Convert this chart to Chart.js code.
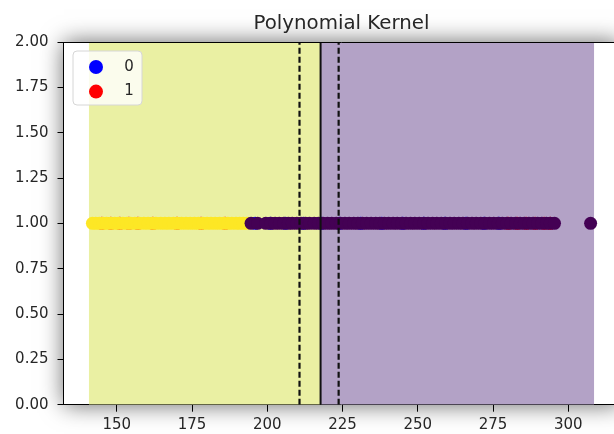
<!DOCTYPE html>
<html>
<head>
<meta charset="utf-8">
<script src="https://cdn.jsdelivr.net/npm/chart.js@4"></script>
<style>
  html, body { margin: 0; padding: 0; background: #fff; overflow: hidden; }
  #kernel { display: block; }
</style>
</head>
<body>
<canvas id="kernel" width="626" height="434"></canvas>
<script>
// true classes (drawn first, mostly hidden by the predictions)
var class0X = [196, 201, 206, 212, 218, 224, 231, 238, 245, 252, 259, 266, 272, 277];
var class1X = [145, 148, 151, 154, 157, 162, 170, 178, 186, 280, 283, 286, 289, 292, 294];
var classLabels = ['0', '1'];

// predicted classes
var predYellowX = [141.9, 143, 144.2, 145.5, 146.6, 148, 149.3, 150.5, 152, 153.4, 154.6, 156, 157.5, 159,
  160.4, 161.8, 163, 164.6, 166, 167.3, 168.8, 170.1, 171.5, 173, 174.4, 175.8, 177.1, 178.6, 180,
  181.3, 182.7, 184.1, 185.5, 186.9, 188.2, 189.6, 190.8, 192, 193.2];
var predPurpleX = [194.6, 196.8, 199.5, 201.2, 202.6, 204, 205.5, 207, 208.3, 209.8, 211.2, 212.7, 214, 215.6,
  217, 218.5, 220, 221.4, 222.9, 224.3, 225.8, 227.2, 228.7, 230.1, 231.6, 233, 234.5, 236, 237.4,
  238.9, 240.3, 241.8, 243.2, 244.7, 246.1, 247.6, 249, 250.5, 252, 253.4, 254.9, 256.3, 257.8,
  259.2, 260.7, 262.1, 263.6, 265, 266.5, 268, 269.4, 270.9, 272.3, 273.8, 275.2, 276.7, 278.1,
  279.6, 281, 282.5, 284, 285.4, 286.9, 288.3, 289.8, 291.2, 292.7, 294, 295.4, 307.4];
var pointY = 1;

// decision regions and boundary lines
var regionYellow = [140.7, 217.7];
var regionPurple = [217.7, 308.6];
var boundaryX = 217.7;
var marginX = [210.7, 223.7];

var xMin = 132.3, xMax = 317.0;
var xTicks = [150, 175, 200, 225, 250, 275, 300];
var yTicks = [0, 0.25, 0.5, 0.75, 1.0, 1.25, 1.5, 1.75, 2.0];

Chart.defaults.font.family = 'DejaVu Sans';
Chart.defaults.color = '#262626';

function pts(xs) {
  return xs.map(function (x) { return { x: x, y: pointY }; });
}
function vline(x) {
  return [{ x: x, y: 0 }, { x: x, y: 2 }];
}
function band(r) {
  return [{ x: r[0], y: 2 }, { x: r[1], y: 2 }];
}

var shadowPlugin = {
  id: 'axesShadow',
  beforeDraw: function (chart) {
    var a = chart.chartArea, ctx = chart.ctx;
    ctx.save();
    ctx.shadowColor = 'rgba(0,0,0,0.6)';
    ctx.shadowBlur = 22;
    ctx.fillStyle = '#fff';
    ctx.fillRect(a.left, a.top, a.right - a.left, a.bottom - a.top);
    ctx.restore();
  }
};

var framePlugin = {
  id: 'frameAndLegend',
  afterDraw: function (chart) {
    var a = chart.chartArea, ctx = chart.ctx;
    ctx.save();
    // top spine
    ctx.strokeStyle = '#000';
    ctx.lineWidth = 1;
    ctx.beginPath();
    ctx.moveTo(a.left, a.top + 0.5);
    ctx.lineTo(a.right, a.top + 0.5);
    ctx.stroke();

    // title
    ctx.fillStyle = '#262626';
    ctx.font = '19.8px "DejaVu Sans"';
    ctx.textAlign = 'center';
    ctx.textBaseline = 'middle';
    ctx.fillText('Polynomial Kernel', (a.left + a.right) / 2, 24);

    // legend
    var bx = a.left + 9.5, by = a.top + 9, bw = 69, bh = 54;
    ctx.beginPath();
    ctx.roundRect(bx, by, bw, bh, 4);
    ctx.fillStyle = 'rgba(255,255,255,0.8)';
    ctx.fill();
    ctx.strokeStyle = '#d6d6d6';
    ctx.stroke();
    var cols = ['#0000ff', '#ff0000'];
    classLabels.forEach(function (lab, i) {
      var cy = by + 16 + i * 24.6;
      ctx.beginPath();
      ctx.arc(bx + 23, cy, 7, 0, Math.PI * 2);
      ctx.fillStyle = cols[i];
      ctx.fill();
      ctx.fillStyle = '#262626';
      ctx.font = '15px "DejaVu Sans"';
      ctx.textAlign = 'center';
      ctx.fillText(lab, bx + 56, cy);
    });
    ctx.restore();
  }
};

var chart = new Chart(document.getElementById('kernel'), {
  type: 'scatter',
  data: {
    datasets: [
      { label: 'boundary', data: vline(boundaryX), showLine: true, borderColor: '#111', borderWidth: 2, pointRadius: 0, order: 1 },
      { label: 'margin-', data: vline(marginX[0]), showLine: true, borderColor: '#111', borderWidth: 2.2, borderDash: [6, 3], pointRadius: 0, order: 1 },
      { label: 'margin+', data: vline(marginX[1]), showLine: true, borderColor: '#111', borderWidth: 2.2, borderDash: [6, 3], pointRadius: 0, order: 1 },
      { label: 'pred 0', data: pts(predPurpleX), backgroundColor: '#440154', borderWidth: 0, pointRadius: 6.5, order: 2 },
      { label: 'pred 1', data: pts(predYellowX), backgroundColor: '#fde725', borderWidth: 0, pointRadius: 6.5, order: 2.5 },
      { label: classLabels[0], data: pts(class0X), backgroundColor: '#0000ff', borderWidth: 0, pointRadius: 6.5, order: 3 },
      { label: classLabels[1], data: pts(class1X), backgroundColor: '#ff0000', borderWidth: 0, pointRadius: 6.5, order: 3 },
      { label: 'region 1', data: band(regionYellow), showLine: true, fill: 'origin', backgroundColor: '#eaf0a3', borderWidth: 0, pointRadius: 0, order: 5 },
      { label: 'region 0', data: band(regionPurple), showLine: true, fill: 'origin', backgroundColor: '#b3a2c6', borderWidth: 0, pointRadius: 0, order: 5 }
    ]
  },
  options: {
    responsive: false,
    animation: false,
    events: [],
    layout: { padding: { top: 42, right: 2.5, bottom: 0, left: 0 } },
    plugins: {
      legend: { display: false },
      tooltip: { enabled: false }
    },
    scales: {
      x: {
        type: 'linear',
        min: xMin,
        max: xMax,
        afterBuildTicks: function (s) {
          s.ticks = xTicks.map(function (v) { return { value: v }; });
        },
        afterFit: function (s) { s.height = 29.3; },
        grid: { drawOnChartArea: false, color: '#000', tickLength: 7 },
        border: { color: '#000', width: 1 },
        ticks: { font: { size: 15 }, padding: 4, maxRotation: 0 }
      },
      y: {
        min: 0,
        max: 2,
        afterBuildTicks: function (s) {
          s.ticks = yTicks.map(function (v) { return { value: v }; });
        },
        afterFit: function (s) { s.width = 63.5; },
        grid: { drawOnChartArea: false, color: '#000', tickLength: 6 },
        border: { color: '#000', width: 1 },
        ticks: {
          font: { size: 15 },
          padding: 9,
          callback: function (v) { return v.toFixed(2); }
        }
      }
    }
  },
  plugins: [shadowPlugin, framePlugin]
});
</script>
</body>
</html>
